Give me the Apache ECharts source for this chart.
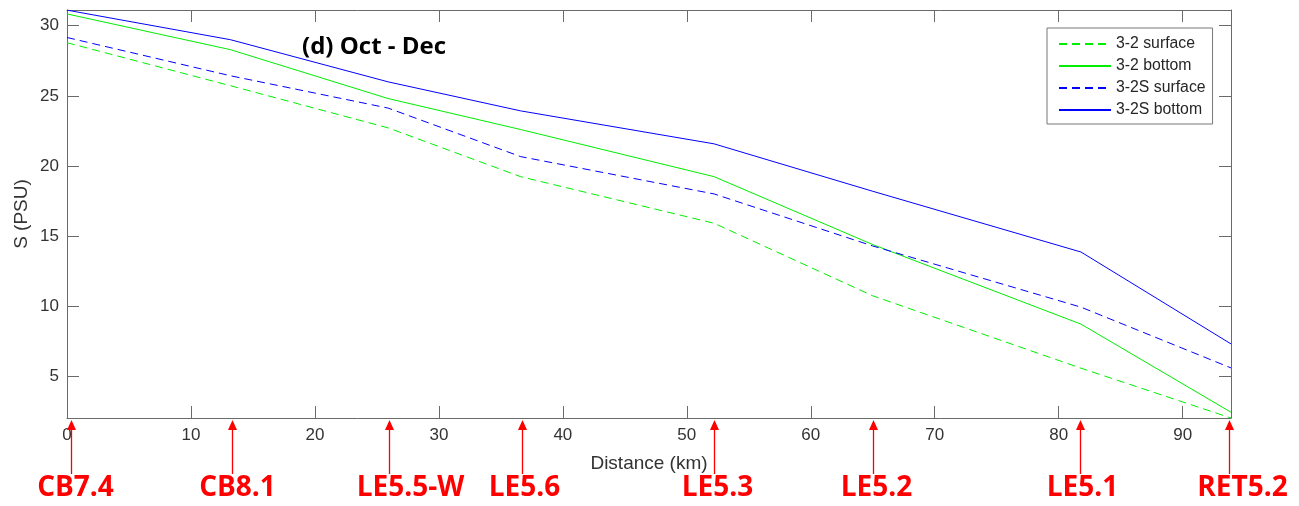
<!DOCTYPE html>
<html>
<head>
<meta charset="utf-8">
<script src="https://cdn.jsdelivr.net/npm/echarts@6/dist/echarts.min.js"></script>
<style>
html,body{margin:0;padding:0;background:#fff;}
#chart{width:1299px;height:506px;}
</style>
</head>
<body>
<div id="chart"></div>
<script>
// ---- data ----
const stationKm = [0, 13.2, 25.9, 36.6, 52.2, 65.0, 81.8, 93.9];
const s32Surface  = [28.79, 25.72, 22.72, 19.24, 15.92, 10.75, 5.59, 2.04];
const s32Bottom   = [30.84, 28.29, 24.81, 22.60, 19.24, 14.40, 8.73, 2.45];
const s32SSurface = [29.16, 26.43, 24.13, 20.67, 18.01, 14.30, 9.94, 5.61];
const s32SBottom  = [31.11, 29.00, 26.00, 23.93, 21.58, 18.20, 13.87, 7.32];
const stationNames = ['CB7.4', 'CB8.1', 'LE5.5-W', 'LE5.6', 'LE5.3', 'LE5.2', 'LE5.1', 'RET5.2'];
const arrowKm = [0.35, 13.3, 25.95, 36.7, 52.2, 65.0, 81.7, 93.75];
const xTicks = [0, 10, 20, 30, 40, 50, 60, 70, 80, 90];
const yTicks = [5, 10, 15, 20, 25, 30];
const seriesNames = ['3-2 surface', '3-2 bottom', '3-2S surface', '3-2S bottom'];
const xMin = 0, xMax = 93.9, yMin = 2.04, yMax = 31.12;

// ---- style ----
const labelDx = [4, 5, 21, 2, 3, 3, 2, 13];
const axisColor = '#6a6a6a';
const textColor = '#333333';
const green = '#00ee00', blue = '#0000ff';

function pairs(ys){ return stationKm.map((x,i)=>[x, ys[i]]); }

const chart = echarts.init(document.getElementById('chart'), null, {renderer:'canvas'});

function axisCommon(extra){
  return Object.assign({
    type:'value',
    axisLine:{show:true, onZero:false, lineStyle:{color:axisColor, width:1}},
    axisTick:{show:true, inside:true, length:12, lineStyle:{color:axisColor, width:1}},
    splitLine:{show:false},
    axisLabel:{show:false}
  }, extra);
}

const option = {
  backgroundColor:'#ffffff',
  animation:false,
  title:{
    text:'(d) Oct - Dec', left:302, top:35, padding:0,
    textStyle:{fontFamily:'Open Sans', fontWeight:'bold', fontSize:24, color:'#000'}
  },
  legend:{
    orient:'vertical', left:1047, top:28,
    padding:[8,7,6,11], itemWidth:52, itemHeight:14, itemGap:6,
    borderColor:'#777', borderWidth:1, backgroundColor:'#fff',
    itemStyle:{opacity:0},
    textStyle:{fontFamily:'Liberation Sans', fontSize:15.8, color:'#262626'},
    data:seriesNames
  },
  grid:{left:67, right:68, top:10, bottom:88, containLabel:false},
  xAxis:[
    axisCommon({
      position:'bottom', min:xMin, max:xMax,
      name:'Distance (km)', nameLocation:'middle', nameGap:36,
      nameTextStyle:{fontFamily:'Liberation Sans', fontSize:19, color:textColor},
      axisTick:{show:true, inside:true, length:12, customValues:xTicks, lineStyle:{color:axisColor, width:1}},
      axisLabel:{show:true, margin:9, customValues:xTicks, fontFamily:'Liberation Sans', fontSize:17, color:textColor}
    }),
    axisCommon({
      position:'top', min:xMin, max:xMax,
      axisTick:{show:true, inside:true, length:12, customValues:xTicks, lineStyle:{color:axisColor, width:1}}
    })
  ],
  yAxis:[
    axisCommon({
      position:'left', min:yMin, max:yMax,
      name:'S (PSU)', nameLocation:'middle', nameGap:36, nameRotate:90, nameMoveOverlap:false,
      nameTextStyle:{fontFamily:'Liberation Sans', fontSize:19, color:textColor},
      axisTick:{show:true, inside:true, length:12, customValues:yTicks, lineStyle:{color:axisColor, width:1}},
      axisLabel:{show:true, margin:8, customValues:yTicks, fontFamily:'Liberation Sans', fontSize:17, color:textColor}
    }),
    axisCommon({
      position:'right', min:yMin, max:yMax,
      axisTick:{show:true, inside:true, length:12, customValues:yTicks, lineStyle:{color:axisColor, width:1}}
    })
  ],
  series:[
    {name:seriesNames[0], type:'line', data:pairs(s32Surface), symbol:'none', color:green,
     lineStyle:{color:green, width:1, type:[8,5]}, xAxisIndex:0, yAxisIndex:0},
    {name:seriesNames[1], type:'line', data:pairs(s32Bottom), symbol:'none', color:green,
     lineStyle:{color:green, width:1, type:'solid'}, xAxisIndex:0, yAxisIndex:0},
    {name:seriesNames[2], type:'line', data:pairs(s32SSurface), symbol:'none', color:blue,
     lineStyle:{color:blue, width:1, type:[8,5]}, xAxisIndex:0, yAxisIndex:0},
    {name:seriesNames[3], type:'line', data:pairs(s32SBottom), symbol:'none', color:blue,
     lineStyle:{color:blue, width:1, type:'solid'}, xAxisIndex:0, yAxisIndex:0},
    {
      name:'stations', type:'custom', xAxisIndex:0, yAxisIndex:0, clip:false, silent:true,
      data:arrowKm.map((k,i)=>[k, yMin, i]),
      renderItem:function(params, api){
        const idx = api.value(2);
        const p = api.coord([api.value(0), yMin]);
        const x = Math.round(p[0]) + 0.5, y0 = p[1];
        return {
          type:'group',
          children:[
            {type:'line', shape:{x1:x, y1:y0+10, x2:x, y2:y0+56}, style:{stroke:'#ff0000', lineWidth:1.3}},
            {type:'polygon', shape:{points:[[x, y0+2],[x-4.5, y0+12],[x+4.5, y0+12]]}, style:{fill:'#ff0000'}},
            {type:'text', x:x+labelDx[idx], y:y0+70,
             style:{text:stationNames[idx], fill:'#ff0000', font:'bold 28px "Open Sans"', align:'center', verticalAlign:'middle'}}
          ]
        };
      }
    }
  ]
};
chart.setOption(option);
</script>
</body>
</html>
